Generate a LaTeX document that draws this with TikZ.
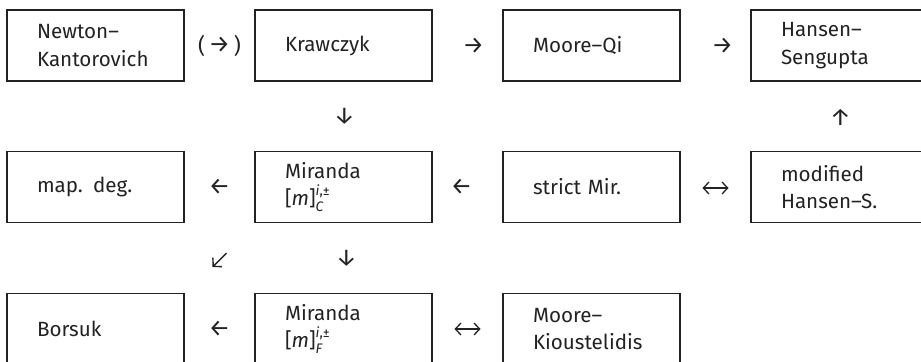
\documentclass[tikz,border=0pt]{standalone}
\usepackage{fontspec}
\setmainfont{Fira Sans}
\usetikzlibrary{arrows.meta,calc}
\definecolor{ink}{HTML}{222222}
\newcommand{\mirsub}[1]{[\textit{m}]\rlap{\raisebox{4.9pt}{\fontsize{6.9}{7}\selectfont\textit{i},±}}\raisebox{-3.1pt}{\fontsize{6.9}{7}\selectfont\textit{#1}}}
\begin{document}
\begin{tikzpicture}[x=0.5pt,y=-0.5pt,
  box/.style={draw=ink, line width=0.55pt, minimum height=35.5pt, text width=58.5pt,
    inner xsep=15pt, inner ysep=0pt, align=left, text=ink,
    font=\fontsize{10.3}{13.8}\selectfont},
  arr/.style={font=\fontsize{12}{13}\selectfont, inner sep=0pt, text=ink},
  par/.style={font=\fontsize{10.8}{13}\selectfont, inner sep=0pt, text=ink},
  sarr/.style={-{Straight Barb[length=3pt,width=6.4pt]}, line width=0.7pt, draw=ink},
  dbl/.style={{Straight Barb[length=2.8pt,width=6pt]}-{Straight Barb[length=2.8pt,width=6pt]},
    line width=0.65pt, draw=ink}]
\useasboundingbox (0,0) rectangle (921,362);
% row 1
\node[box] (nk) at (95.5,45.5) {Newton–\\Kantorovich};
\node[box] (kr) at (343.5,45.5) {Krawczyk};
\node[box] (mq) at (591.5,45.5) {Moore–Qi};
\node[box] (hs) at (839.5,45.5) {Hansen–\\Sengupta};
% row 2
\node[box] (md) at (95.5,187) {map. deg.};
\node[box] (mc) at (343.5,187) {Miranda\\\mirsub{C}};
\node[box] (sm) at (591.5,187) {strict Mir.};
\node[box] (mh) at (839.5,187) {modified\\Hansen–S.};
% row 3
\node[box] (bo) at (95.5,329) {Borsuk};
\node[box] (mf) at (343.5,329) {Miranda\\\mirsub{F}};
\node[box] (mk) at (591.5,329) {Moore–\\Kioustelidis};
% arrows row 1
\node[par] (a1) at ($(nk.east)!0.5!(kr.west)$) {(\,\raisebox{0.3pt}{\fontsize{12}{13}\selectfont →}\,)};
\node[arr] (a2) at ($(kr.east)!0.5!(mq.west)+(6,0)$) {→};
\node[arr] (a3) at ($(mq.east)!0.5!(hs.west)+(7,0)$) {→};
% vertical between rows 1-2
\node[arr] (a4) at ($(kr.south)!0.5!(mc.north)+(1,0)$) {↓};
\node[arr] (a5) at ($(hs.south)!0.5!(mh.north)+(1,1)$) {↑};
% row 2
\node[arr] (a6) at ($(md.east)!0.5!(mc.west)$) {←};
\node[arr] (a7) at ($(mc.east)!0.5!(sm.west)+(-6,0)$) {←};
\coordinate (c8) at ($(sm.east)!0.5!(mh.west)$);
\draw[dbl] ($(c8)+(-13,1)$) -- ($(c8)+(13,1)$);
% vertical between rows 2-3
\coordinate (c9) at ($(md.south east)!0.5!(mc.south west)+(0,37)$);
\draw[sarr] ($(c9)+(7,-7)$) -- ($(c9)+(-7,7)$);
\node[arr] (a10) at ($(mc.south)!0.5!(mf.north)+(3,0)$) {↓};
% row 3
\node[arr] (a11) at ($(bo.east)!0.5!(mf.west)$) {←};
\coordinate (c12) at ($(mf.east)!0.5!(mk.west)$);
\draw[dbl] ($(c12)+(-13,0)$) -- ($(c12)+(13,0)$);
\end{tikzpicture}
\end{document}
